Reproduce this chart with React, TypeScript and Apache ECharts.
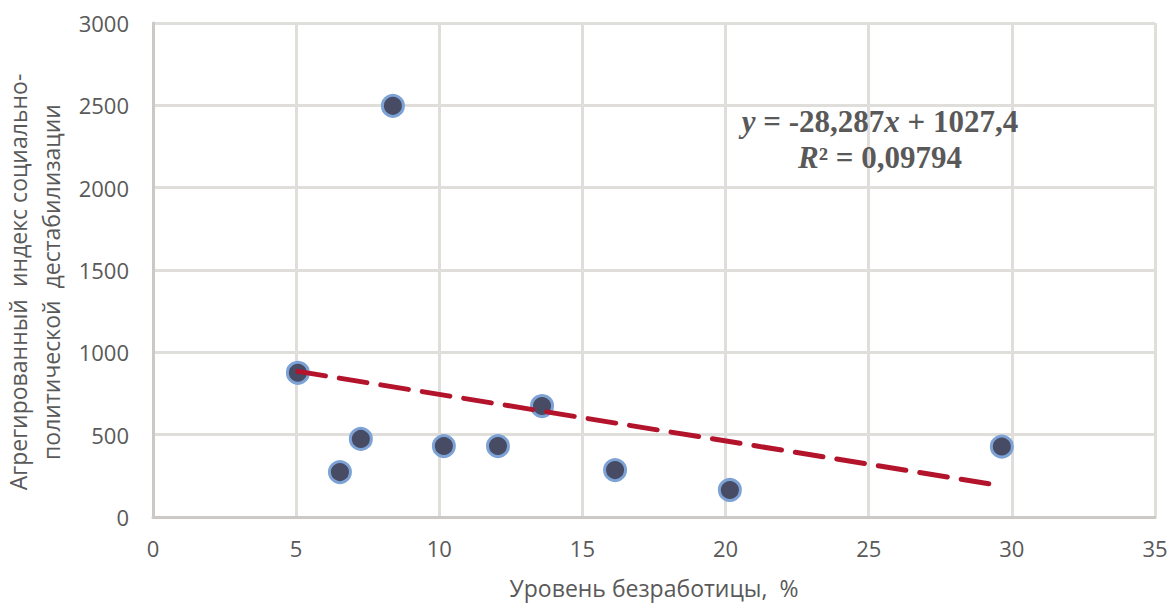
import React, { useEffect, useRef } from "react";
import * as echarts from "echarts";

const unemployment = [5.06, 6.53, 7.26, 8.38, 10.16, 12.05, 13.59, 16.14, 20.15, 29.65];
const destabIndex = [876, 273, 474, 2497, 431, 431, 674, 285, 164, 428];
const trendSlope = -28.287;
const trendIntercept = 1027.4;
const equationText = "{i|y} = -28,287{i|x} + 1027,4";
const r2Text = "{i|R}² = 0,09794";
const xTitle = "Уровень безработицы,  %";
const yTitle = "Агрегированный  индекс социально-\nполитической  дестабилизации";

export default function App() {
  const ref = useRef<HTMLDivElement>(null);
  useEffect(() => {
    if (!ref.current) return;
    const chart = echarts.init(ref.current, null, { renderer: "svg" });
    const xMin = Math.min(...unemployment);
    const xMax = Math.max(...unemployment);
    const trend = [xMin, xMax].map((x) => [x, trendSlope * x + trendIntercept]);
    const textColor = "#595959";
    const eqStyle = (text: string, y: number) => ({
      type: "text",
      x: 880,
      y,
      z: 10,
      style: {
        text,
        x: 0,
        y: 0,
        align: "center",
        verticalAlign: "middle",
        fill: textColor,
        fontFamily: "Liberation Serif",
        fontWeight: "bold",
        fontSize: 31,
        rich: {
          i: { fontStyle: "italic", fontWeight: "bold", fontFamily: "Liberation Serif", fontSize: 31, fill: textColor },
        },
      },
    });
    chart.setOption({
      animation: false,
      backgroundColor: "#ffffff",
      grid: { left: 153, right: 12, top: 23, bottom: 88, containLabel: false, outerBoundsMode: "none" },
      xAxis: {
        type: "value",
        min: 0,
        max: 35,
        interval: 5,
        name: xTitle,
        nameLocation: "middle",
        nameGap: 59,
        nameTextStyle: { color: textColor, fontFamily: "Open Sans", fontSize: 23 },
        axisLine: { show: true, onZero: false, lineStyle: { color: "#ccc8c5", width: 3 } },
        axisTick: { show: false },
        axisLabel: { color: textColor, fontFamily: "Open Sans", fontSize: 22, margin: 20, formatter: (v: number) => String(v) },
        splitLine: { show: true, lineStyle: { color: "#e0dedb", width: 3 } },
      },
      yAxis: {
        type: "value",
        min: 0,
        max: 3000,
        interval: 500,
        name: yTitle,
        nameLocation: "middle",
        nameGap: 85,
        nameRotate: 90,
        nameTextStyle: { color: textColor, fontFamily: "Open Sans", fontSize: 23, lineHeight: 33, padding: [0, 24, 0, 0] },
        axisLine: { show: true, lineStyle: { color: "#ccc8c5", width: 3 } },
        axisTick: { show: false },
        axisLabel: { color: textColor, fontFamily: "Open Sans", fontSize: 22, margin: 24, formatter: (v: number) => String(v) },
        splitLine: { show: true, lineStyle: { color: "#e0dedb", width: 3 } },
      },
      series: [
        {
          type: "scatter",
          data: unemployment.map((x, i) => [x, destabIndex[i]]),
          symbol: "circle",
          symbolSize: 21,
          itemStyle: { color: "#474b63", borderColor: "#7da2d6", borderWidth: 3, opacity: 1 },
          z: 2,
        },
        {
          type: "line",
          data: trend,
          showSymbol: false,
          symbol: "none",
          lineStyle: { color: "#b3142c", width: 5, type: [28, 14], cap: "round" },
          z: 3,
        },
      ],
      graphic: [eqStyle(equationText, 121), eqStyle(r2Text, 157)],
    });
    return () => chart.dispose();
  }, []);
  return <div ref={ref} style={{ width: 1167, height: 605, position: "absolute", left: 0, top: 0 }} />;
}
